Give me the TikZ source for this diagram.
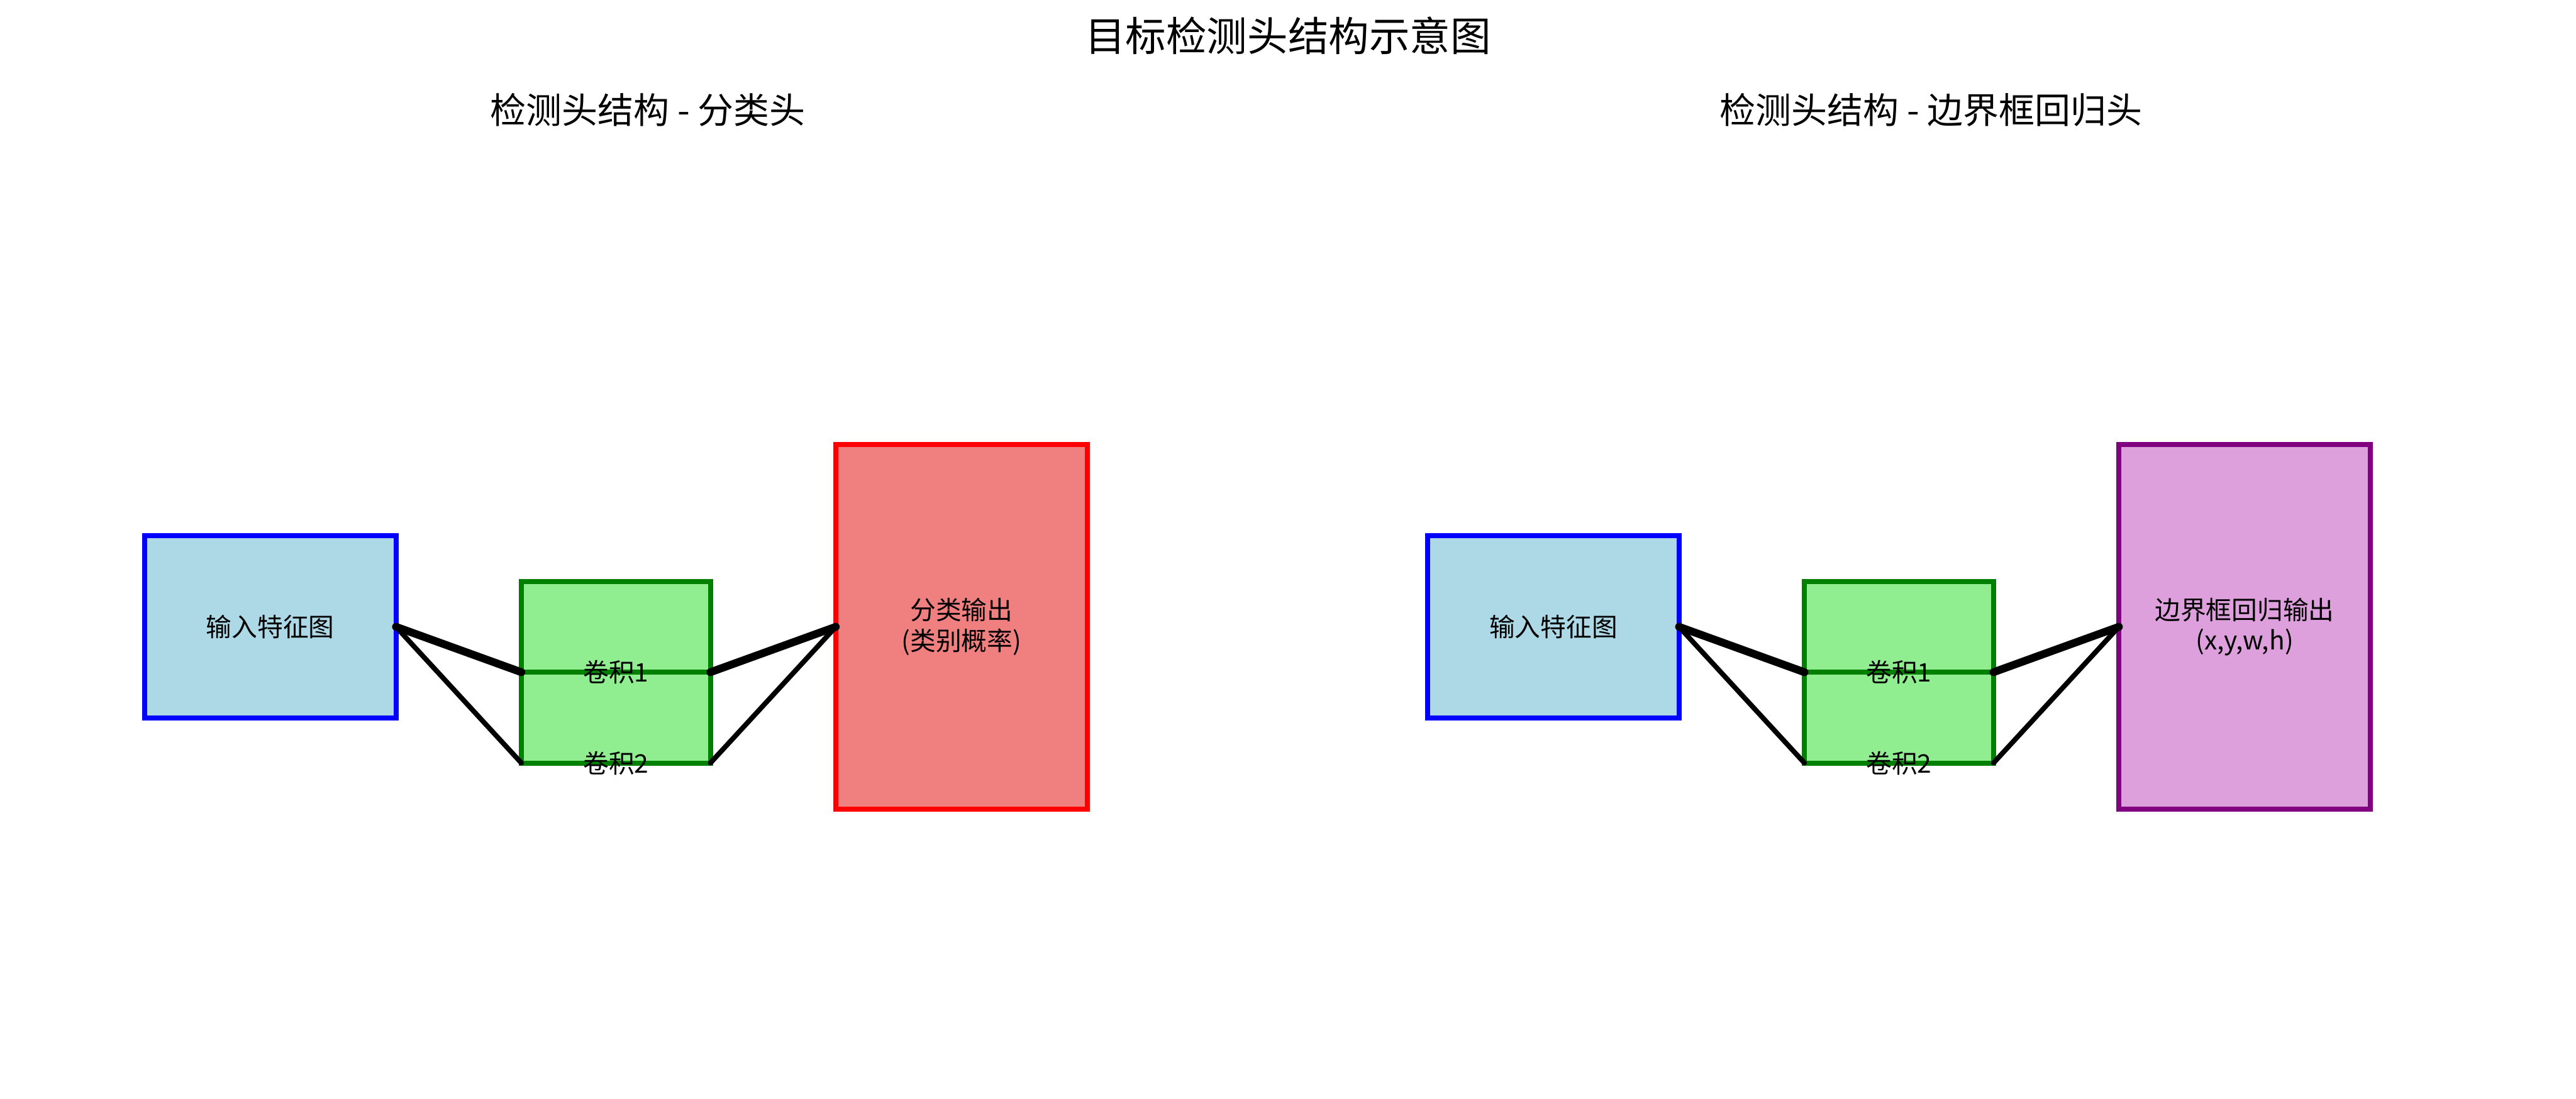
\documentclass[tikz,border=0pt]{standalone}
\usepackage{fontspec}
\setmainfont{Noto Sans CJK SC}
\usepackage{tikz}
\usetikzlibrary{positioning}
\definecolor{lightblue}{HTML}{ADD8E6}
\definecolor{lightgreen}{HTML}{90EE90}
\definecolor{darkgreen}{HTML}{008000}
\definecolor{lightcoral}{HTML}{F08080}
\definecolor{plum}{HTML}{DDA0DD}
\definecolor{mplpurple}{HTML}{800080}

\begin{document}
\begin{tikzpicture}[
    font=\fontsize{11.8}{14}\selectfont,
    box/.style={draw, line width=2.3pt, outer sep=0pt, inner sep=0pt, align=center},
    featbox/.style={box, draw=blue, fill=lightblue, minimum width=4.07cm, minimum height=2.95cm},
    convbox/.style={box, draw=darkgreen, fill=lightgreen, minimum width=3.06cm, minimum height=1.47cm},
    clsbox/.style={box, draw=red, fill=lightcoral, minimum width=4.07cm, minimum height=5.90cm},
    regbox/.style={box, draw=mplpurple, fill=plum, minimum width=4.07cm, minimum height=5.90cm},
    link/.style={line width=2.3pt, line cap=round},
    mainlink/.style={line width=3.6pt, line cap=round},
    headline/.style={font=\fontsize{18.7}{22}\selectfont},
    panelhead/.style={font=\fontsize{16.5}{20}\selectfont}
]
\useasboundingbox (0,0) rectangle (41.70,17.79);

% ---- Titles ----
\node[headline] (title) at (20.85,17.21) {目标检测头结构示意图};
\node[panelhead] (clshead) at (10.49,16.01) {检测头结构 - 分类头};
\node[panelhead] (reghead) at (31.26,16.01) {检测头结构 - 边界框回归头};

% ---- Classification head ----
\node[featbox] (clsin) at (4.375,7.64) {输入特征图};
\node[convbox] (clsconv1) at (9.97,7.64) {};
\node[convbox] (clsconv2) at (9.97,6.17) {};
\node[clsbox] (clsout) at (15.565,7.64) {分类输出\\(类别概率)};

\draw[mainlink] (clsin.east) -- (clsconv1.south west);
\draw[link] (clsin.east) -- (clsconv2.south west);
\draw[mainlink] (clsconv1.south east) -- (clsout.west);
\draw[link] (clsconv2.south east) -- (clsout.west);

\node (clsconv1txt) at (clsconv1.south) {卷积1};
\node (clsconv2txt) at (clsconv2.south) {卷积2};

% ---- Box regression head ----
\node[featbox] (regin) at (25.145,7.64) {输入特征图};
\node[convbox] (regconv1) at (30.74,7.64) {};
\node[convbox] (regconv2) at (30.74,6.17) {};
\node[regbox] (regout) at (36.335,7.64) {边界框回归输出\\(x,y,w,h)};

\draw[mainlink] (regin.east) -- (regconv1.south west);
\draw[link] (regin.east) -- (regconv2.south west);
\draw[mainlink] (regconv1.south east) -- (regout.west);
\draw[link] (regconv2.south east) -- (regout.west);

\node (regconv1txt) at (regconv1.south) {卷积1};
\node (regconv2txt) at (regconv2.south) {卷积2};

\end{tikzpicture}
\end{document}
